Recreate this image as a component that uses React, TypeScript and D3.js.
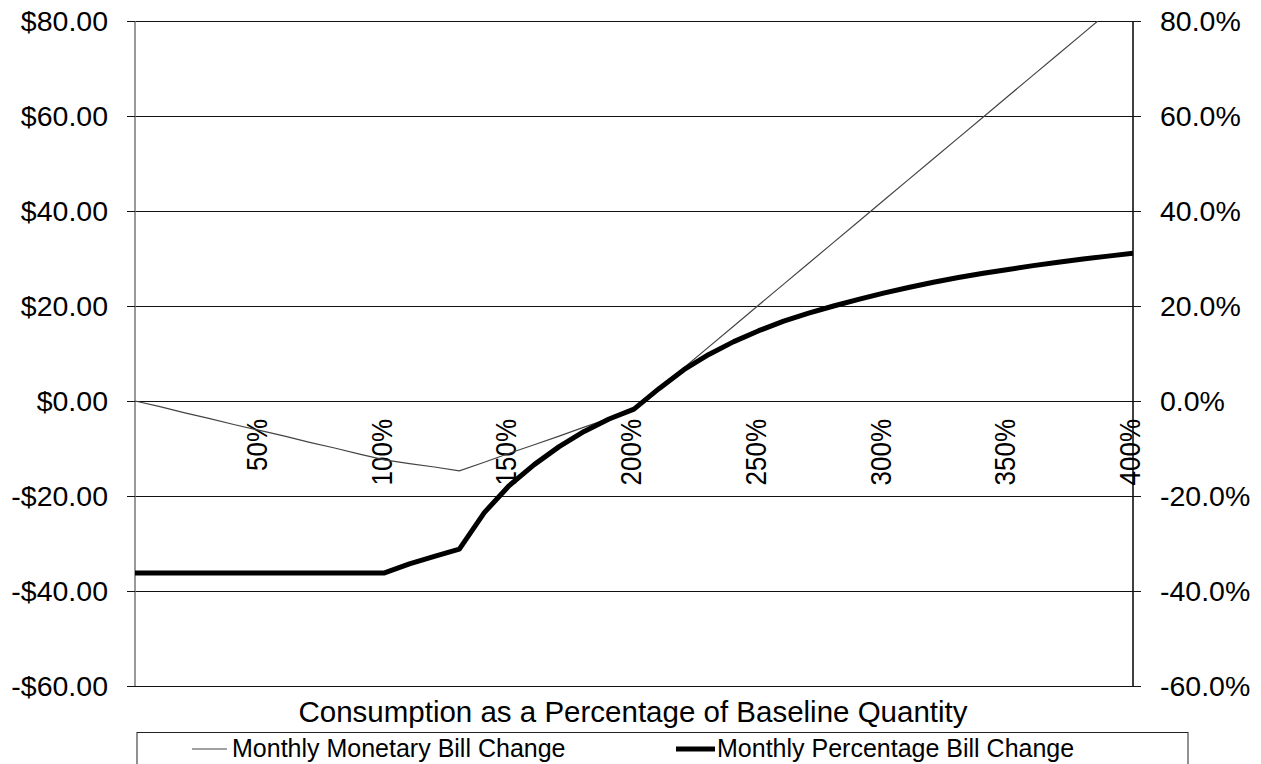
import * as React from "react";
import * as d3 from "d3";

// consumption as % of baseline quantity, 10% steps
const consumptionPct = [
  0, 10, 20, 30, 40, 50, 60, 70, 80, 90, 100, 110, 120, 130, 140, 150, 160, 170, 180, 190, 200,
  210, 220, 230, 240, 250, 260, 270, 280, 290, 300, 310, 320, 330, 340, 350, 360, 370, 380, 390, 400,
];

// Monthly Monetary Bill Change ($), left axis
const monetaryChange = [
  0, -1.2, -2.5, -3.7, -5.0, -6.2, -7.4, -8.7, -9.9, -11.2, -12.4, -13.2, -13.9, -14.7, -12.9, -11.0,
  -9.2, -7.4, -5.5, -3.7, -1.8, 2.6, 7.0, 11.4, 15.8, 20.2, 24.6, 29.0, 33.4, 37.8, 42.2, 46.6, 51.0,
  55.4, 59.8, 64.2, 68.6, 73.0, 77.4, 81.8, 86.2,
];

// Monthly Percentage Bill Change (%), right axis
const percentageChange = [
  -36.2, -36.2, -36.2, -36.2, -36.2, -36.2, -36.2, -36.2, -36.2, -36.2, -36.2, -34.3, -32.7, -31.2,
  -23.5, -17.8, -13.4, -9.6, -6.4, -3.8, -1.7, 2.6, 6.6, 9.8, 12.5, 14.8, 16.8, 18.5, 20.0, 21.4,
  22.7, 23.9, 25.0, 26.0, 26.9, 27.7, 28.5, 29.2, 29.9, 30.5, 31.1,
];

const xTickValues = [50, 100, 150, 200, 250, 300, 350, 400];
const leftTicks = [80, 60, 40, 20, 0, -20, -40, -60];
const rightTicks = [80, 60, 40, 20, 0, -20, -40, -60];

const seriesNames = ["Monthly Monetary Bill Change", "Monthly Percentage Bill Change"];
const xTitle = "Consumption as a Percentage of Baseline Quantity";

const W = 1261;
const H = 764;
const font = "Arial, 'Liberation Sans', sans-serif";

export default function App() {
  const left = 135;
  const right = 1133;
  const top = 21;
  const bottom = 686;

  const x = d3.scaleLinear().domain([0, 400]).range([left, right]);
  const yL = d3.scaleLinear().domain([-60, 80]).range([bottom, top]);
  const yR = d3.scaleLinear().domain([-60, 80]).range([bottom, top]);

  const monetaryLine = d3
    .line<number>()
    .x((_d, i) => x(consumptionPct[i]))
    .y((d) => yL(d));
  const pctLine = d3
    .line<number>()
    .x((_d, i) => x(consumptionPct[i]))
    .y((d) => yR(d));

  const fmtDollar = (v: number) => (v < 0 ? "-$" : "$") + Math.abs(v).toFixed(2);

  return (
    <svg
      width={W}
      height={H}
      style={{ position: "absolute", left: 0, top: 0, background: "#fff" }}
      fontFamily={font}
    >
      <defs>
        <clipPath id="plot-clip">
          <rect x={left} y={top} width={right - left} height={bottom - top} />
        </clipPath>
      </defs>

      {/* gridlines */}
      {leftTicks.map((t) => (
        <line
          key={"g" + t}
          x1={left}
          x2={right}
          y1={Math.round(yL(t)) + 0.5}
          y2={Math.round(yL(t)) + 0.5}
          stroke="#111"
          strokeWidth={1}
        />
      ))}

      {/* left axis */}
      <line x1={left} x2={left} y1={top} y2={bottom} stroke="#777" strokeWidth={1.5} />
      {leftTicks.map((t) => (
        <g key={"l" + t}>
          <line x1={left - 8} x2={left} y1={Math.round(yL(t)) + 0.5} y2={Math.round(yL(t)) + 0.5} stroke="#111" />
          <text
            x={108}
            y={yL(t)}
            textAnchor="end"
            dominantBaseline="central"
            fontSize={28.5}
            fill="#000"
          >
            {fmtDollar(t)}
          </text>
        </g>
      ))}

      {/* right axis */}
      <line x1={right} x2={right} y1={top} y2={bottom} stroke="#000" strokeWidth={1.5} />
      {rightTicks.map((t) => (
        <g key={"r" + t}>
          <line x1={right - 8} x2={right + 8} y1={Math.round(yR(t)) + 0.5} y2={Math.round(yR(t)) + 0.5} stroke="#111" />
          <text x={1160} y={yR(t)} dominantBaseline="central" fontSize={28.5} fill="#000">
            {t.toFixed(1) + "%"}
          </text>
        </g>
      ))}

      {/* category labels at the zero line */}
      {xTickValues.map((t) => (
        <text
          key={"x" + t}
          transform={`translate(${x(t) - 3},${yL(0) + 18}) rotate(-90) scale(1,1.15)`}
          textAnchor="end"
          dominantBaseline="central"
          fontSize={26}
          fill="#000"
        >
          {t + "%"}
        </text>
      ))}

      {/* series */}
      <g clipPath="url(#plot-clip)">
        <path d={monetaryLine(monetaryChange) || ""} fill="none" stroke="#444" strokeWidth={1.2} />
        <path
          d={pctLine(percentageChange) || ""}
          fill="none"
          stroke="#000"
          strokeWidth={5}
          strokeLinejoin="round"
        />
      </g>

      {/* x title */}
      <text x={633} y={722} textAnchor="middle" fontSize={29.5} fill="#000">
        {xTitle}
      </text>

      {/* legend */}
      <rect x={137} y={732.5} width={1188 - 137} height={50} fill="#fff" stroke="#222" strokeWidth={1} />
      <line x1={192} x2={227} y1={749} y2={749} stroke="#444" strokeWidth={1.2} />
      <text x={232} y={757} fontSize={25} fill="#000">
        {seriesNames[0]}
      </text>
      <line x1={676} x2={715} y1={749} y2={749} stroke="#000" strokeWidth={5} />
      <text x={717} y={757} fontSize={25} fill="#000">
        {seriesNames[1]}
      </text>
    </svg>
  );
}
